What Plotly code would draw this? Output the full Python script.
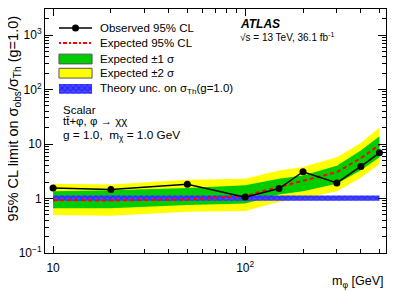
import plotly.graph_objects as go

# ---------------- data ----------------
mass = [10, 20, 50, 100, 150, 200, 300, 400, 500]
observed = [1.56, 1.46, 1.82, 1.06, 1.52, 3.1, 1.93, 3.87, 6.9]
expected = [0.93, 0.92, 0.96, 1.12, 1.63, 2.1, 3.05, 5.5, 9.6]
exp_minus1 = [0.66, 0.66, 0.76, 0.81, 1.18, 1.36, 1.87, 3.3, 5.7]
exp_plus1 = [1.36, 1.41, 1.56, 1.75, 2.31, 2.65, 4.0, 7.56, 13.8]
exp_minus2 = [0.50, 0.48, 0.57, 0.59, 0.87, 1.0, 1.36, 2.4, 4.3]
exp_plus2 = [1.87, 1.80, 2.2, 2.31, 3.27, 3.77, 5.7, 10.4, 20.0]
theory_lo = [0.91, 0.91, 0.91, 0.91, 0.91, 0.91, 0.91, 0.91, 0.91]
theory_hi = [1.14, 1.14, 1.14, 1.14, 1.14, 1.14, 1.14, 1.14, 1.14]

y_tickvals = [0.1, 1, 10, 100, 1000]
y_ticktext = ["10<sup>−1</sup>", "1", "10", "10<sup>2</sup>", "10<sup>3</sup>"]
x_tickvals = [10, 100]
x_ticktext = ["10", "10<sup>2</sup>"]

legend_labels = ["Observed 95% CL", "Expected 95% CL", "Expected ±1 σ",
                 "Expected ±2 σ", "Theory unc. on σ<sub>Th</sub>(g=1.0)"]

GREEN = "#00cc00"
YELLOW = "#ffff00"
BLUE = "#0000ff"
HATCH = dict(shape="x", fgcolor=BLUE, bgcolor="#4a4aff", size=4, solidity=0.5)
FONT = "Liberation Sans, Arial, sans-serif"

fig = go.Figure()


def band(lo, hi, color, name):
    return go.Scatter(x=mass + mass[::-1], y=hi + lo[::-1], fill="toself",
                      fillcolor=color, line=dict(width=0), mode="lines",
                      name=name, showlegend=False, hoverinfo="skip")


fig.add_trace(band(exp_minus2, exp_plus2, YELLOW, "±2σ"))
fig.add_trace(band(exp_minus1, exp_plus1, GREEN, "±1σ"))
fig.add_trace(go.Scatter(x=mass + mass[::-1], y=theory_hi + theory_lo[::-1],
                         fill="toself", mode="lines", line=dict(width=0),
                         fillcolor="rgba(0,0,0,0)", fillpattern=HATCH,
                         showlegend=False, hoverinfo="skip"))
fig.add_trace(go.Scatter(x=mass, y=expected, mode="lines",
                         line=dict(color="#ff0000", width=2, dash="4px,3px"),
                         showlegend=False))
fig.add_trace(go.Scatter(x=mass, y=observed, mode="lines+markers",
                         line=dict(color="black", width=1.5),
                         marker=dict(color="black", size=7),
                         showlegend=False))

# ---------------- hand-made legend keys (overlay axes 0..1) ----------------
kx0, kx1 = 0.041, 0.138
rows = [0.922, 0.861, 0.795, 0.737, 0.673]
half = 0.02
fig.add_trace(go.Scatter(x=[kx0, kx1], y=[rows[0], rows[0]], xaxis="x2", yaxis="y2",
                         mode="lines", line=dict(color="black", width=1.5),
                         showlegend=False, hoverinfo="skip"))
fig.add_trace(go.Scatter(x=[(kx0 + kx1) / 2], y=[rows[0]], xaxis="x2", yaxis="y2",
                         mode="markers", marker=dict(color="black", size=7),
                         showlegend=False, hoverinfo="skip"))
fig.add_trace(go.Scatter(x=[kx0, kx1], y=[rows[1], rows[1]], xaxis="x2", yaxis="y2",
                         mode="lines", line=dict(color="#ff0000", width=2, dash="2px,2px,4px,2px"),
                         showlegend=False, hoverinfo="skip"))
for r, col in ((rows[2], GREEN), (rows[3], YELLOW)):
    fig.add_trace(go.Scatter(x=[kx0, kx1, kx1, kx0, kx0],
                             y=[r - half, r - half, r + half, r + half, r - half],
                             xaxis="x2", yaxis="y2", mode="lines", fill="toself",
                             fillcolor=col, line=dict(color="#555555", width=1),
                             showlegend=False, hoverinfo="skip"))
r = rows[4]
fig.add_trace(go.Scatter(x=[kx0, kx1, kx1, kx0, kx0],
                         y=[r - half, r - half, r + half, r + half, r - half],
                         xaxis="x2", yaxis="y2", mode="lines", fill="toself",
                         fillcolor="rgba(0,0,0,0)", line=dict(width=0),
                         fillpattern=HATCH, showlegend=False, hoverinfo="skip"))

annotations = []
for lab, yy in zip(legend_labels, rows):
    annotations.append(dict(text=lab, x=0.155, y=yy, xref="paper", yref="paper",
                            xanchor="left", yanchor="middle", showarrow=False,
                            font=dict(size=11.5, color="black", family=FONT)))

annotations += [
    dict(text="<b><i>ATLAS</i></b>", x=0.567, y=0.937, xref="paper", yref="paper",
         xanchor="left", yanchor="middle", showarrow=False,
         font=dict(size=12, color="black", family=FONT)),
    dict(text="√s = 13 TeV, 36.1 fb<sup>-1</sup>", x=0.567, y=0.885, xref="paper", yref="paper",
         xanchor="left", yanchor="middle", showarrow=False,
         font=dict(size=10, color="black", family=FONT)),
    dict(text="Scalar", x=0.048, y=0.588, xref="paper", yref="paper",
         xanchor="left", yanchor="middle", showarrow=False,
         font=dict(size=11.5, color="black", family=FONT)),
    dict(text="tt̄+φ, φ → χχ", x=0.048, y=0.539, xref="paper", yref="paper",
         xanchor="left", yanchor="middle", showarrow=False,
         font=dict(size=11.5, color="black", family=FONT)),
    dict(text="g = 1.0,  m<sub>χ</sub> = 1.0 GeV", x=0.048, y=0.482, xref="paper", yref="paper",
         xanchor="left", yanchor="middle", showarrow=False,
         font=dict(size=11.8, color="black", family=FONT)),
    dict(text="95% CL limit on σ<sub>obs</sub>/σ<sub>Th</sub> (g=1.0)", x=-0.092, y=0.55,
         xref="paper", yref="paper", textangle=-90, xanchor="center", yanchor="middle",
         showarrow=False, font=dict(size=14.5, color="black", family=FONT)),
    dict(text="m<sub>φ</sub> [GeV]", x=1.0, y=-0.118, xref="paper", yref="paper",
         xanchor="right", yanchor="middle", showarrow=False,
         font=dict(size=12.5, color="black", family=FONT)),
]

x_minor = [m * d for d in (10, 100) for m in range(2, 10) if m * d <= 540]
y_minor = [m * d for d in (0.1, 1, 10, 100, 1000) for m in range(2, 10) if m * d <= 3000]

# The page body has an 8px margin, so the figure is 8px smaller and the
# top/left margins 8px smaller to keep the plot frame where the reference has it.
fig.update_layout(
    width=399, height=284,
    margin=dict(l=37, r=21, t=1, b=39),
    paper_bgcolor="white", plot_bgcolor="white",
    font=dict(family=FONT, size=12, color="black"),
    showlegend=False,
    annotations=annotations,
    xaxis=dict(type="log", range=[0.958, 2.733], showgrid=False, zeroline=False,
               showline=True, linecolor="black", linewidth=1, mirror="allticks",
               ticks="inside", ticklen=7, tickcolor="black",
               tickmode="array", tickvals=x_tickvals, ticktext=x_ticktext,
               ticklabelstandoff=4, tickfont=dict(size=12),
               minor=dict(ticks="inside", ticklen=4, tickcolor="black",
                          tickmode="array", tickvals=x_minor, showgrid=False)),
    yaxis=dict(type="log", range=[-1, 3.477], showgrid=False, zeroline=False,
               showline=True, linecolor="black", linewidth=1, mirror="allticks",
               ticks="inside", ticklen=8, tickcolor="black",
               tickmode="array", tickvals=y_tickvals, ticktext=y_ticktext,
               tickfont=dict(size=12),
               minor=dict(ticks="inside", ticklen=4, tickcolor="black",
                          tickmode="array", tickvals=y_minor, showgrid=False)),
    xaxis2=dict(overlaying="x", range=[0, 1], visible=False, fixedrange=True),
    yaxis2=dict(overlaying="y", range=[0, 1], visible=False, fixedrange=True),
)

fig.write_html("out.html")
